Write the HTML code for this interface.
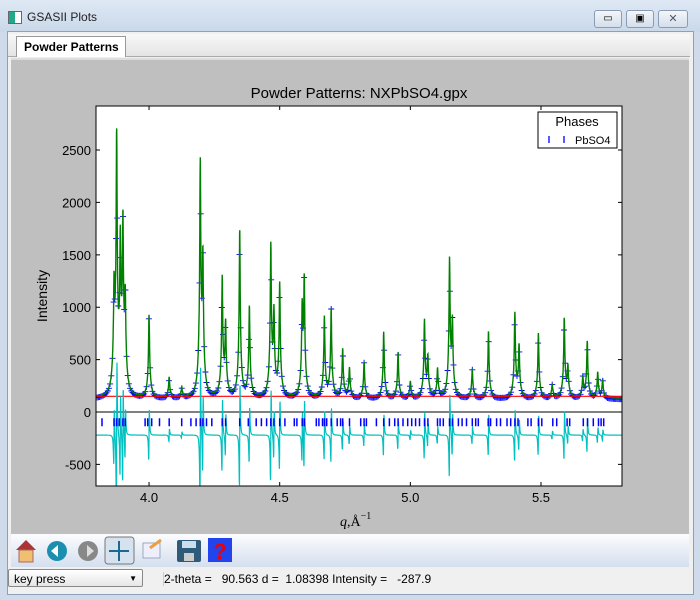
<!DOCTYPE html>
<html><head><meta charset="utf-8">
<style>
body{margin:0;width:700px;height:600px;overflow:hidden;background:#cfdbea;font-family:"Liberation Sans",sans-serif;position:relative}
.abs{position:absolute}
</style></head>
<body>
<div class="abs" style="left:0;top:0;width:700px;height:32px;background:linear-gradient(#dfe9f5,#c9d8ea)"></div>
<div class="abs" style="left:8px;top:11px;width:12px;height:11px;border:1px solid #667;background:linear-gradient(90deg,#2a8 50%,#fff 50%)"></div>
<div class="abs" style="left:27px;top:10px;font-size:12px;color:#222">GSASII Plots</div>
<div class="abs" style="left:594px;top:10px;width:26px;height:16px;border:1px solid #8a9bb3;border-radius:3px;background:linear-gradient(#f4f7fb,#d4deea);font-size:10px;text-align:center;line-height:16px">▭</div>
<div class="abs" style="left:626px;top:10px;width:26px;height:16px;border:1px solid #8a9bb3;border-radius:3px;background:linear-gradient(#f4f7fb,#d4deea);font-size:10px;text-align:center;line-height:16px">▣</div>
<div class="abs" style="left:658px;top:10px;width:28px;height:16px;border:1px solid #8a9bb3;border-radius:3px;background:linear-gradient(#f4f7fb,#d4deea);font-size:11px;text-align:center;line-height:16px;color:#556">✕</div>
<div class="abs" style="left:7px;top:31px;width:685px;height:562px;background:#f0f0f0;border:1px solid #8ea0b8"></div>
<div class="abs" style="left:8px;top:34px;width:682px;height:22px;background:linear-gradient(#f8f8f8,#e4e4e4);border-bottom:1px solid #aaa"></div>
<div class="abs" style="left:16px;top:36px;height:20px;background:#fff;border:1px solid #999;border-bottom:none;font-size:12px;font-weight:bold;line-height:20px;padding-left:7px;width:101px">Powder Patterns</div>
<div class="abs" style="left:11px;top:58px;width:678px;height:476px;background:#bfbfbf;border-top:2px solid #ddd"></div>
<div class="abs" style="left:11px;top:534px;width:678px;height:33px;background:linear-gradient(#fbfcfe,#d5dfee)"></div>
<svg class="abs" style="left:0;top:0" width="700" height="600">
 <g><polygon points="16,550 26,540 36,550" fill="#a33"/><rect x="19" y="550" width="14" height="12" fill="#f0c070" stroke="#a66"/></g>
 <g><circle cx="57" cy="551" r="10" fill="#1c8fb0"/><polygon points="51,551 58,545 58,557" fill="#fff"/></g>
 <g><circle cx="88" cy="551" r="10" fill="#888"/><polygon points="94,551 87,545 87,557" fill="#ddd"/></g>
 <g><rect x="105" y="537" width="29" height="27" rx="3" fill="#d7e2ef" stroke="#777"/><path d="M119,541v20M109,551h20" stroke="#1a6a90" stroke-width="2"/></g>
 <g><rect x="143" y="543" width="17" height="15" fill="#eef" stroke="#9ab"/><line x1="150" y1="548" x2="161" y2="540" stroke="#e9a040" stroke-width="3"/></g>
 <g><rect x="177" y="540" width="24" height="22" rx="2" fill="#2f5a7a"/><rect x="182" y="541" width="14" height="7" fill="#cde"/><rect x="184" y="553" width="10" height="8" fill="#ccc"/></g>
 <g><rect x="208" y="538" width="24" height="24" fill="#2244ee"/><text x="220" y="559" text-anchor="middle" font-size="22" font-weight="bold" fill="#e00" font-family="Liberation Sans">?</text></g>
</svg>
<div class="abs" style="left:8px;top:567px;width:682px;height:26px;background:#f0f0f0"></div>
<div class="abs" style="left:8px;top:569px;width:135px;height:18px;border:1px solid #888;border-radius:2px;background:linear-gradient(#fff,#e6e6e6);font-size:12px;line-height:18px;padding-left:5px;box-sizing:border-box">key press<span style="position:absolute;right:5px;font-size:8px">▼</span></div>
<div class="abs" style="left:163px;top:572px;font-size:12px;white-space:pre;border-left:1px solid #ccc">2-theta =   90.563 d =  1.08398 Intensity =   -287.9</div>

<svg id="chart" class="abs" style="left:0;top:0" width="700" height="600"></svg>
<script>
const peakPos=[3.866,3.876,3.890,3.900,3.909,4.000,4.077,4.125,4.196,4.206,4.280,4.293,4.347,4.384,4.466,4.478,4.500,4.594,4.586,4.671,4.697,4.741,4.767,4.823,4.898,4.953,5.000,5.054,5.067,5.104,5.150,5.161,5.237,5.299,5.400,5.416,5.490,5.543,5.589,5.603,5.660,5.677,5.717,5.736];
const peakHt=[1160,2900,1610,1870,1070,1080,380,260,2670,1550,1450,920,2020,1160,1800,1000,1410,1390,1050,1050,1130,690,480,550,890,660,330,1000,570,470,1650,920,470,900,1090,710,880,300,1030,470,370,780,430,350];
const reflections=[3.82,3.866,3.876,3.886,3.9,3.909,3.985,3.995,4.01,4.04,4.077,4.125,4.16,4.18,4.196,4.206,4.22,4.24,4.28,4.293,4.347,4.38,4.41,4.43,4.45,4.466,4.478,4.5,4.52,4.556,4.566,4.586,4.594,4.64,4.65,4.664,4.671,4.68,4.697,4.72,4.733,4.741,4.767,4.81,4.823,4.832,4.87,4.898,4.92,4.94,4.953,4.972,4.99,5.005,5.02,5.035,5.054,5.067,5.104,5.114,5.126,5.15,5.161,5.184,5.198,5.215,5.237,5.25,5.26,5.298,5.307,5.33,5.345,5.37,5.384,5.4,5.412,5.45,5.462,5.49,5.503,5.545,5.56,5.6,5.61,5.662,5.678,5.7,5.72,5.73,5.74];
const background=150;
const yTicks=[-500,0,500,1000,1500,2000,2500];
const xTicks=[4.0,4.5,5.0,5.5];

const NS="http://www.w3.org/2000/svg";
const svg=document.getElementById('chart');
const L=96,R=622,T=106,B=486,xmin=3.797,xmax=5.81,ymin=-706,ymax=2920;
const X=q=>L+(q-xmin)/(xmax-xmin)*(R-L);
const Y=v=>B-(v-ymin)/(ymax-ymin)*(B-T);
function mk(tag,attrs){const e=document.createElementNS(NS,tag);for(const k in attrs)e.setAttribute(k,attrs[k]);svg.appendChild(e);return e;}
const w1=0.002,w2=0.007;
function calc(q){let s=background-20;for(let i=0;i<peakPos.length;i++){const d=q-peakPos[i];s+=(peakHt[i]-background)*(0.7/(1+(d/w1)**2)+0.3/(1+(d/w2)**2))*0.85;}return s;}
function deriv(q){let s=0;for(let i=0;i<peakPos.length;i++){const d=q-peakPos[i];const u=d/w1;s+=(peakHt[i]-background)*(-2*u/w1)/(1+u*u)**2;}return s;}

const plot=mk('rect',{x:L,y:T,width:R-L,height:B-T,fill:'#fff'});

const cp=mk('clipPath',{id:'cp'});const cr=document.createElementNS(NS,'rect');
cr.setAttribute('x',L);cr.setAttribute('y',T);cr.setAttribute('width',R-L);cr.setAttribute('height',B-T);cp.appendChild(cr);

let od='';
for(let q=xmin;q<=xmax;q+=0.0045){const x=X(q),y=Y(calc(q)-10);od+=`M${(x-3).toFixed(1)},${y.toFixed(1)}h6M${x.toFixed(1)},${(y-3).toFixed(1)}v6`;}
const obs=mk('path',{d:od,stroke:'#00f','stroke-width':0.9,fill:'none','clip-path':'url(#cp)'});

let cd='',dd='';
for(let q=xmin;q<=xmax;q+=0.0006){const x=X(q).toFixed(1);cd+=(cd?'L':'M')+x+','+Y(calc(q)).toFixed(1);
 dd+=(dd?'L':'M')+x+','+Y(-220-0.0008*deriv(q)).toFixed(1);}
const calcLine=mk('path',{d:cd,stroke:'#008000','stroke-width':1.4,fill:'none','clip-path':'url(#cp)'});

const bg=mk('line',{x1:L,x2:R,y1:Y(background),y2:Y(background),stroke:'#f00','stroke-width':1.2});

const zl=mk('line',{x1:L,x2:R,y1:Y(0),y2:Y(0),stroke:'#000','stroke-width':1});

const diff=mk('path',{d:dd,stroke:'#00c0c0','stroke-width':1.2,fill:'none','clip-path':'url(#cp)'});

let rd='';reflections.forEach(q=>{const x=X(q).toFixed(1);rd+=`M${x},${Y(-60)}v8`;});
const refl=mk('path',{d:rd,stroke:'#00f','stroke-width':1.5});

const frame=mk('rect',{x:L,y:T,width:R-L,height:B-T,fill:'none',stroke:'#000','stroke-width':1});


yTicks.forEach(v=>{const y=Y(v);
 mk('path',{d:`M${L},${y}h4M${R},${y}h-4`,stroke:'#000'});
 const t=mk('text',{x:L-5,y:y+5,'text-anchor':'end','font-size':13,'font-family':'Liberation Sans'});t.textContent=v;
 });
xTicks.forEach(v=>{const x=X(v);
 mk('path',{d:`M${x},${B}v-4M${x},${T}v4`,stroke:'#000'});
 const t=mk('text',{x:x,y:B+16,'text-anchor':'middle','font-size':13,'font-family':'Liberation Sans'});t.textContent=v.toFixed(1);
 });

const title=mk('text',{x:359,y:98,'text-anchor':'middle','font-size':15,'font-family':'Liberation Sans'});title.textContent='Powder Patterns: NXPbSO4.gpx';

const yl=mk('text',{x:0,y:0,transform:'translate(47,296) rotate(-90)','text-anchor':'middle','font-size':14,'font-family':'Liberation Sans'});yl.textContent='Intensity';

const xl=mk('text',{x:340,y:526,'font-size':14,'font-family':'Liberation Serif'});
xl.innerHTML='<tspan font-style="italic">q</tspan>,Å<tspan dy="-7" font-size="10">−1</tspan>';


const lg=mk('rect',{x:538,y:112,width:79,height:36,fill:'#fff',stroke:'#000'});

const lt=mk('text',{x:577,y:126,'text-anchor':'middle','font-size':13,'font-family':'Liberation Sans'});lt.textContent='Phases';

mk('path',{d:'M549,136v7M564,136v7',stroke:'#00f','stroke-width':1.3});
const le=mk('text',{x:575,y:144,'font-size':11,'font-family':'Liberation Sans'});le.textContent='PbSO4';

</script>
</body></html>
